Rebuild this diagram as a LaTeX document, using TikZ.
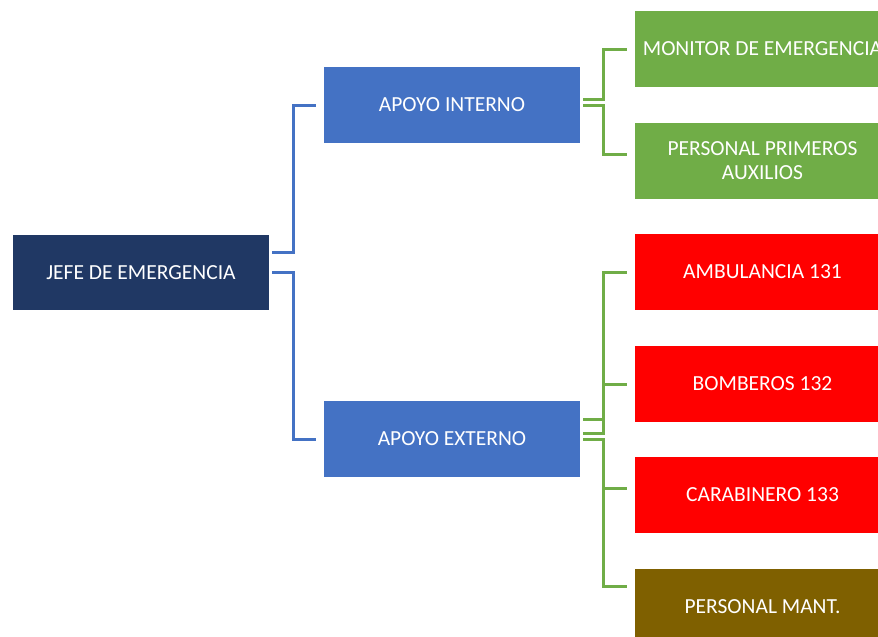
\documentclass[tikz,border=0pt]{standalone}
\usepackage{fontspec}
\setmainfont{Carlito}
\definecolor{navy}{HTML}{203864}
\definecolor{sablue}{HTML}{4472C4}
\definecolor{sagreen}{HTML}{70AD47}
\definecolor{sared}{HTML}{FF0000}
\definecolor{sabrown}{HTML}{7F6000}
\tikzset{
  box/.style={rectangle, inner sep=0pt, text=white, minimum width=256pt, minimum height=76pt, align=center, font=\fontsize{21.5}{24}\selectfont},
  bluebox/.style={box, fill=sablue},
  greenbox/.style={box, fill=sagreen, minimum width=255pt},
  redbox/.style={box, fill=sared, minimum width=255pt},
  brownbox/.style={box, fill=sabrown, minimum width=255pt},
  blueline/.style={draw=sablue, line width=3pt},
  greenline/.style={draw=sagreen, line width=3pt}
}
\begin{document}
\begin{tikzpicture}[x=1pt,y=-1pt]
\useasboundingbox (0,0) rectangle (878,637);
\clip (0,0) rectangle (878,637);
\node[box, fill=navy, minimum height=75pt] (jefe) at (141,272.5) {JEFE DE EMERGENCIA};
\node[bluebox] (ai) at (452,105) {APOYO INTERNO};
\node[bluebox] (ae) at (452,439) {APOYO EXTERNO};
\node[greenbox] (mon) at (762.5,49) {MONITOR DE EMERGENCIA};
\node[greenbox] (ppa) at (762.5,161) {PERSONAL PRIMEROS\\AUXILIOS};
\node[redbox] (amb) at (762.5,272) {AMBULANCIA 131};
\node[redbox] (bom) at (762.5,384) {BOMBEROS 132};
\node[redbox] (car) at (762.5,495) {CARABINERO 133};
\node[brownbox] (man) at (762.5,607) {PERSONAL MANT.};
% blue connectors
\draw[blueline] ([shift={(3pt,20.5pt)}]jefe.east) -- ++(21,0) |- ([xshift=-8pt]ai.west);
\draw[blueline] ([shift={(3pt,0pt)}]jefe.east) -- ++(21,0) |- ([xshift=-8pt]ae.west);
% green connectors internal
\draw[greenline] ([shift={(3pt,6pt)}]ai.east) -- ++(20,0) |- ([xshift=-8pt]mon.west);
\draw[greenline] ([shift={(3pt,0pt)}]ai.east) -- ++(20,0) |- ([shift={(-8pt,7pt)}]ppa.west);
% green connectors external
\draw[greenline] ([shift={(3pt,20pt)}]ae.east) -- ++(20,0) |- ([xshift=-8pt]amb.west);
\draw[greenline] ([shift={(3pt,6pt)}]ae.east) -- ++(20,0) |- ([xshift=-8pt]bom.west);
\draw[greenline] ([shift={(3pt,0pt)}]ae.east) -- ++(20,0) |- ([shift={(-8pt,7pt)}]car.west);
\draw[greenline] ([shift={(3pt,0pt)}]ae.east) -- ++(20,0) |- ([shift={(-8pt,21pt)}]man.west);
\end{tikzpicture}
\end{document}
